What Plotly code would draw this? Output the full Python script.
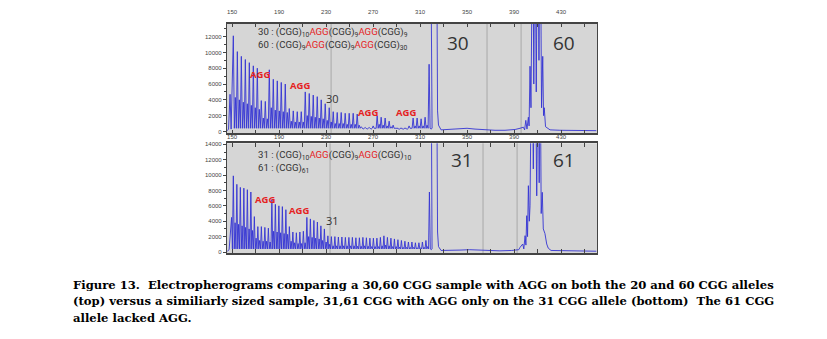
import plotly.graph_objects as go

W, H = 827, 339

# ------------------------------------------------------------------ data
# base-pair axis ticks
x_tick_vals = [150, 190, 230, 270, 310, 350, 390, 430]
x_tick_text = ["150", "190", "230", "270", "310", "350", "390", "430"]
top_y_tick_vals = [0, 2000, 4000, 6000, 8000, 10000, 12000]
top_y_tick_text = ["0", "2000", "4000", "6000", "8000", "10000", "12000"]
bot_y_tick_vals = [0, 2000, 4000, 6000, 8000, 10000, 12000, 14000]
bot_y_tick_text = ["0", "2000", "4000", "6000", "8000", "10000", "12000", "14000"]

REPEAT_START_BP = 151.1      # first CGG repeat peak (bp)
TOP_STEP_BP = 3.40           # repeat spacing, top run
BOT_STEP_BP = 2.98           # repeat spacing, bottom run
VALLEY_RFU = 400             # trough level between repeat peaks

# top run: 30,60 CGG sample
top_lead_bp = [146.0, 147.0, 148.3, 149.2]
top_lead_rfu = [100, 300, 4700, 300]
top_peaks = [12100, 10100, 9500, 9100, 8700, 8300, 8000, 3900, 3800, 7800,
             6600, 6400, 6200, 6000, 2900, 2600, 2500, 2500, 5000, 4800,
             4600, 4400, 4000, 3500, 3000, 2500, 2400, 2400, 2300, 2300,
             2300, 2200, 600, 500, 500, 700, 2000, 1800, 1700, 1300,
             800, 400, 400, 400, 700, 1700, 1700, 1600, 1800, 8500]
top_minor = [4300, 4000, 3700, 3500, 3300, 3000, 2800, 1700, 1600, 3000,
             2700, 2600, 2500, 2400, 1300, 1200, 1200, 1200, 2000, 1900,
             1800, 1700, 1600, 1400, 1200, 1000, 1000, 1000, 900, 900,
             900, 800, 300, 300, 300, 400, 900, 800, 700, 600,
             400, 250, 250, 250, 400, 700, 700, 700, 800, 300]
top_tail_bp = [318.9, 324.0, 324.9, 325.7, 327.9, 335.5, 344.0, 350.0, 356.8,
               365.3, 373.8, 382.3, 390.9, 395.1,
               397.9, 399.0, 400.0, 401.0, 402.2, 402.8, 403.6, 404.4, 405.9,
               406.8, 407.8, 408.9, 410.1, 411.2, 412.3, 413.4, 414.4, 415.1,
               415.7, 416.8, 417.8, 420.6, 429.0, 446.0, 460.0]
top_tail_rfu = [30000, 30000, 2600, 800, 200, 250, 300, 400, 300,
                200, 150, 150, 250, 400,
                540, 200, 1400, 300, 1800, 700, 8250, 3000, 30000,
                6000, 30000, 5000, 30000, 9000, 30000, 3000, 9500, 2000,
                3000, 600, 500, 200, 150, 150, 100]

# bottom run: 31,61 CGG sample
bot_lead_bp = [146.0, 147.5, 149.6, 150.3]
bot_lead_rfu = [100, 300, 4500, 400]
bot_peaks = [9900, 8800, 8400, 8300, 8100, 7800, 4600, 3300, 3300, 3200,
             3100, 6800, 6200, 6000, 5900, 5500, 3300, 2600, 2500, 2600,
             2700, 4500, 4300, 4100, 3900, 3400, 3000, 2100, 2000, 2000,
             1950, 1950, 1900, 1900, 1900, 1850, 1850, 1900, 1850, 1800,
             1800, 1800, 1900, 2100, 1900, 1800, 1700, 1600, 1500, 1400,
             1300, 1300, 1200, 1200, 1300, 1500, 7800]
bot_minor = [3800, 3600, 3400, 3200, 3000, 2800, 1800, 1500, 1400, 1400,
             1300, 2700, 2600, 2500, 2400, 2300, 1400, 1200, 1100, 1100,
             1200, 2000, 1900, 1800, 1700, 1500, 1300, 1000, 800, 800,
             800, 800, 800, 800, 800, 750, 750, 800, 750, 700,
             700, 700, 800, 900, 800, 700, 700, 650, 600, 600,
             600, 600, 550, 550, 600, 700, 300]
bot_tail_bp = [319.3, 324.0, 324.9, 325.7, 327.9, 335.5, 344.0, 352.0, 360.0,
               368.0, 378.0, 388.0, 394.0,
               395.1, 397.4, 398.3, 399.4, 400.1, 400.8, 401.5, 402.2, 403.0,
               403.6, 405.1, 406.4, 407.9, 409.3, 410.7, 411.4, 412.1, 413.1,
               414.0, 414.9, 416.3, 417.8, 419.1, 421.5, 440.0, 460.0]
bot_tail_rfu = [30000, 30000, 2600, 700, 200, 200, 250, 300, 250,
                200, 150, 200, 300,
                600, 1040, 400, 2120, 900, 4720, 2000, 8620, 4000,
                6000, 30000, 10800, 30000, 7300, 30000, 9000, 30000, 5000,
                7760, 3000, 2400, 1040, 500, 200, 150, 100]

# bin marker lines (bp)
top_markers = [234.3, 367.0, 396.0]
bot_markers = [233.4, 363.6, 392.6]


# ------------------------------------------------------------------ helpers
def px(x):
    return x / W


def py(y):
    return 1 - y / H


def build(lead_bp, lead_rfu, start, step, peaks, minors, tail_bp, tail_rfu):
    xs, ys = list(lead_bp), list(lead_rfu)
    for i, (p, m) in enumerate(zip(peaks, minors)):
        b = start + i * step
        xs += [b, b + 0.25 * step, b + 0.5 * step, b + 0.75 * step]
        ys += [p, VALLEY_RFU, m, VALLEY_RFU]
    xs += list(tail_bp)
    ys += list(tail_rfu)
    return xs, ys


tx, ty = build(top_lead_bp, top_lead_rfu, REPEAT_START_BP, TOP_STEP_BP,
               top_peaks, top_minor, top_tail_bp, top_tail_rfu)
bx, by = build(bot_lead_bp, bot_lead_rfu, REPEAT_START_BP, BOT_STEP_BP,
               bot_peaks, bot_minor, bot_tail_bp, bot_tail_rfu)

TRACE_COLOR = "#3434d4"

fig = go.Figure()
fig.add_trace(go.Scatter(x=tx, y=ty, mode="lines", xaxis="x", yaxis="y",
                         line=dict(color=TRACE_COLOR, width=0.9),
                         hoverinfo="skip", showlegend=False))
fig.add_trace(go.Scatter(x=bx, y=by, mode="lines", xaxis="x2", yaxis="y2",
                         line=dict(color=TRACE_COLOR, width=0.9),
                         hoverinfo="skip", showlegend=False))

XRANGE = [145.7, 460.6]
TICKFONT = dict(family="Liberation Sans", size=6, color="#444")
common_x = dict(range=XRANGE, side="top", tickvals=x_tick_vals, ticktext=x_tick_text,
                ticks="inside", ticklen=4, tickcolor="#444", tickwidth=1,
                minor=dict(tick0=150, dtick=20, ticks="inside", ticklen=4, tickcolor="#444"),
                showline=True, mirror="ticks", linecolor="#444", linewidth=1.5,
                showgrid=False, zeroline=False, tickfont=TICKFONT)
common_y = dict(ticks="outside", ticklen=3, tickcolor="#444",
                minor=dict(dtick=1000, ticks="outside", ticklen=2, tickcolor="#444"),
                showline=True, mirror=True, linecolor="#444", linewidth=1.2,
                showgrid=False, zeroline=False, tickfont=TICKFONT)

fig.update_layout(
    width=W, height=H,
    margin=dict(l=0, r=0, t=0, b=0),
    paper_bgcolor="white", plot_bgcolor="#d6d6d6",
    xaxis=dict(domain=[px(227), px(597)], anchor="y", ticklabelstandoff=6, **common_x),
    yaxis=dict(domain=[py(133), py(22)], anchor="x", range=[-250, 13625],
               tickvals=top_y_tick_vals, ticktext=top_y_tick_text, **common_y),
    xaxis2=dict(domain=[px(227), px(597)], anchor="y2", ticklabelstandoff=0, **common_x),
    yaxis2=dict(domain=[py(254), py(143)], anchor="x2", range=[-130, 14130],
                tickvals=bot_y_tick_vals, ticktext=bot_y_tick_text, **common_y),
)

shapes = []
for m in top_markers:
    shapes.append(dict(type="line", xref="x", yref="y domain", x0=m, x1=m, y0=0, y1=1,
                       line=dict(color="#a9a9a9", width=1), layer="below"))
for m in bot_markers:
    shapes.append(dict(type="line", xref="x2", yref="y2 domain", x0=m, x1=m, y0=0, y1=1,
                       line=dict(color="#a9a9a9", width=1), layer="below"))
fig.update_layout(shapes=shapes)

RED = "#e5231f"
DARK = "#333333"


def R(s):
    return f"<span style='color:{RED}'>{s}</span>"


ann = []


def text(x, y, s, size, color=DARK, family="Roboto", xanchor="center", bold=False):
    if bold:
        s = f"<b>{s}</b>"
    ann.append(dict(x=px(x), y=py(y), xref="paper", yref="paper", text=s, showarrow=False,
                    xanchor=xanchor, yanchor="middle",
                    font=dict(family=family, size=size, color=color)))


FORM = 9.6
# top panel texts
text(256, 31, "30 : (CGG)<sub>10</sub>" + R("AGG") + "(CGG)<sub>9</sub>" + R("AGG") + "(CGG)<sub>9</sub>",
     FORM, xanchor="left")
text(256, 44, "60 : (CGG)<sub>9</sub>" + R("AGG") + "(CGG)<sub>9</sub>" + R("AGG") + "(CGG)<sub>30</sub>",
     FORM, xanchor="left")
for (x, y) in [(259.5, 73), (299.5, 85), (367.5, 112), (406, 112)]:
    text(x, y, "AGG", 9.5, color=RED, family="Open Sans", bold=True)
text(332, 97.5, "30", 11, family="Open Sans")
text(458, 41.5, "30", 19, family="Open Sans")
text(564, 41.5, "60", 19, family="Open Sans")

# bottom panel texts
text(256, 155, "31 : (CGG)<sub>10</sub>" + R("AGG") + "(CGG)<sub>9</sub>" + R("AGG") + "(CGG)<sub>10</sub>",
     FORM, xanchor="left")
text(256, 168, "61 : (CGG)<sub>61</sub>", FORM, xanchor="left")
for (x, y) in [(265, 200), (298.5, 211)]:
    text(x, y, "AGG", 9.5, color=RED, family="Open Sans", bold=True)
text(332, 221, "31", 11, family="Open Sans")
text(462, 160, "31", 19, family="Open Sans")
text(564, 160, "61", 19, family="Open Sans")

# caption
cap = [
    "Figure 13.  Electropherograms comparing a 30,60 CGG sample with AGG on both the 20 and 60 CGG alleles",
    "(top) versus a similiarly sized sample, 31,61 CGG with AGG only on the 31 CGG allele (bottom)  The 61 CGG",
    "allele lacked AGG.",
]
for line, y in zip(cap, [286, 303, 320]):
    text(71, y, line, 11.6, color="black", family="DejaVu Serif", xanchor="left", bold=True)

fig.update_layout(annotations=ann)
fig.write_html("out.html")
